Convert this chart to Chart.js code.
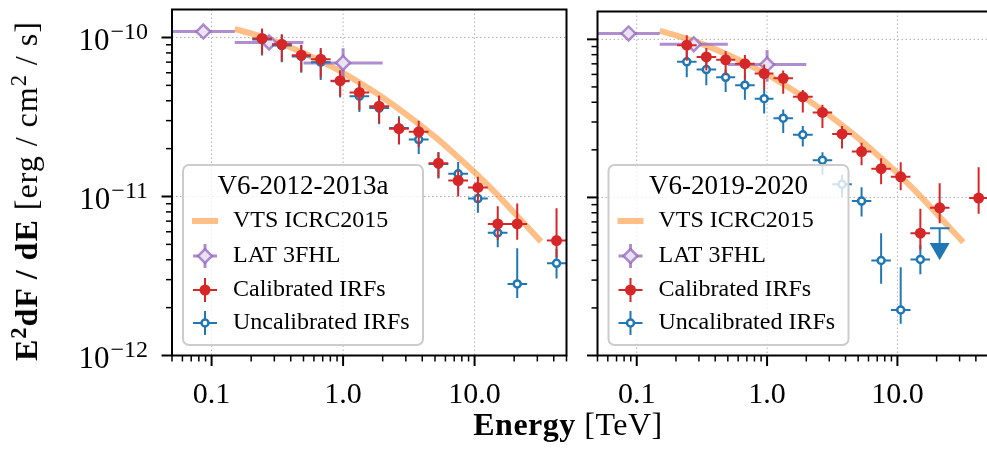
<!DOCTYPE html>
<html>
<head>
<meta charset="utf-8">
<script src="https://cdn.jsdelivr.net/npm/chart.js@4.4.1/dist/chart.umd.min.js"></script>
<style>
  html, body { margin: 0; padding: 0; background: #fff; }
  #figure { position: relative; width: 987px; height: 464px; overflow: hidden; font-family: "Liberation Serif", "DejaVu Serif", serif; }
  #figure canvas { position: absolute; top: 0; }
  #leftPanel { left: 0; }
  #rightPanel { left: 560px; }
  .axis-title { position: absolute; color: #000; font-size: 32px; line-height: 1; white-space: nowrap; letter-spacing: 0.5px; }
  .axis-title sup { font-size: 0.7em; vertical-align: 0.5em; line-height: 0; }
  #xTitle { left: 568px; top: 408px; transform: translateX(-50%); }
  #yTitle { left: 26px; top: 191px; transform: translate(-50%, -50%) rotate(-90deg); letter-spacing: 1px; }
</style>
</head>
<body>
<div id="figure">
  <canvas id="leftPanel" width="600" height="464"></canvas>
  <canvas id="rightPanel" width="440" height="464"></canvas>
  <div id="xTitle" class="axis-title"><b>Energy</b> [TeV]</div>
  <div id="yTitle" class="axis-title"><b>E<sup>2</sup>dF / dE</b> [erg / cm<sup>2</sup> / s]</div>
</div>
<script>
/* Crab SED, two VERITAS epochs */

// energy bins shared by both epochs [TeV]
const energy   = [0.242, 0.342, 0.481, 0.676, 0.95, 1.33, 1.88, 2.66, 3.76, 5.31, 7.5, 10.6, 15.0, 21.1, 42.0];
const energyLo = [0.204, 0.288, 0.407, 0.569, 0.804, 1.12, 1.58, 2.24, 3.16, 4.47, 6.31, 8.91, 12.6, 17.8, 35.5];
const energyHi = [0.288, 0.407, 0.569, 0.804, 1.12, 1.58, 2.24, 3.16, 4.47, 6.31, 8.91, 12.6, 17.8, 25.1, 50.0];

// V6-2012-2013a [erg/cm2/s]
const cal12   = [9.86e-11, 9.06e-11, 7.74e-11, 7.31e-11, 5.35e-11, 4.51e-11, 3.70e-11, 2.67e-11, 2.55e-11, 1.62e-11, 1.26e-11, 1.14e-11, 6.72e-12, 6.72e-12, 5.28e-12];
const cal12Lo = [7.85e-11, 7.1e-11, 6.08e-11, 5.58e-11, 4.27e-11, 3.5e-11, 2.9e-11, 2.12e-11, 2.05e-11, 1.31e-11, 1.0e-11, 9.1e-12, 5.35e-12, 5.35e-12, 4.14e-12];
const cal12Hi = [1.14e-10, 1.05e-10, 9.0e-11, 8.6e-11, 6.2e-11, 5.3e-11, 4.3e-11, 3.1e-11, 3.0e-11, 1.9e-11, 1.45e-11, 1.33e-11, 8.67e-12, 9.05e-12, 8.43e-12];
const uncal12   = [9.7e-11, 8.9e-11, 7.6e-11, 7.0e-11, 5.3e-11, 4.27e-11, 3.6e-11, 2.7e-11, 2.28e-11, 1.6e-11, 1.39e-11, 9.7e-12, 5.91e-12, 2.82e-12, 3.80e-12];
const uncal12Lo = [7.7e-11, 7.0e-11, 6.0e-11, 5.4e-11, 4.2e-11, 3.4e-11, 2.85e-11, 2.15e-11, 1.85e-11, 1.3e-11, 1.1e-11, 7.9e-12, 4.8e-12, 2.3e-12, 3.05e-12];
const uncal12Hi = [1.12e-10, 1.04e-10, 8.9e-11, 8.3e-11, 6.2e-11, 5.1e-11, 4.3e-11, 3.2e-11, 2.75e-11, 1.9e-11, 1.65e-11, 1.17e-11, 7.1e-12, 4.73e-12, 4.67e-12];

// V6-2019-2020
const cal19   = [9.18e-11, 7.74e-11, 7.42e-11, 7.01e-11, 6.08e-11, 5.67e-11, 4.33e-11, 3.45e-11, 2.52e-11, 1.95e-11, 1.52e-11, 1.35e-11, 5.94e-12, 8.59e-12, 9.91e-12];
const cal19Lo = [7.31e-11, 6.35e-11, 5.92e-11, 5.58e-11, 4.85e-11, 4.52e-11, 3.45e-11, 2.75e-11, 2.04e-11, 1.60e-11, 1.21e-11, 1.11e-11, 4.69e-12, 6.86e-12, 7.88e-12];
const cal19Hi = [1.06e-10, 8.8e-11, 8.4e-11, 7.97e-11, 6.92e-11, 6.35e-11, 4.78e-11, 3.86e-11, 2.83e-11, 2.22e-11, 1.77e-11, 1.67e-11, 8.48e-12, 1.23e-11, 1.55e-11];
const uncal19   = [7.21e-11, 6.44e-11, 5.75e-11, 5.13e-11, 4.21e-11, 3.17e-11, 2.49e-11, 1.72e-11, 1.21e-11, 9.48e-12, 3.99e-12, 1.94e-12, 4.05e-12];
const uncal19Lo = [5.75e-11, 5.13e-11, 4.65e-11, 4.15e-11, 3.40e-11, 2.56e-11, 2.1e-11, 1.39e-11, 1.0e-11, 7.57e-12, 2.84e-12, 1.59e-12, 3.27e-12];
const uncal19Hi = [8.44e-11, 7.31e-11, 6.44e-11, 5.92e-11, 4.85e-11, 3.6e-11, 2.83e-11, 1.93e-11, 1.39e-11, 1.16e-11, 5.94e-12, 3.61e-12, 5.0e-12];
// upper limit in bin 14 of the uncalibrated 2019-2020 spectrum
const uncal19UlTop  = [6.38e-12];
const uncal19UlMark = [4.73e-12];

// Fermi-LAT 3FHL
const latE   = [0.0866, 0.274, 1.0];
const latELo = [0.05, 0.15, 0.5];
const latEHi = [0.15, 0.5, 2.0];
const latF   = [1.09e-10, 9.31e-11, 6.92e-11];
const latFLo = [1.02e-10, 8.7e-11, 5.4e-11];
const latFHi = [1.16e-10, 9.9e-11, 8.55e-11];

// VTS ICRC2015 curve, read at these energies
const vtsE = [0.15, 0.2, 0.3, 0.5, 0.7, 1.0, 1.5, 2.0, 3.0, 5.0, 7.0, 10.0, 15.0, 20.0, 32.0];
const vtsF = [1.13e-10, 1.06e-10, 9.5e-11, 8.0e-11, 7.0e-11, 6.0e-11, 4.9e-11, 4.2e-11, 3.3e-11, 2.37e-11, 1.86e-11, 1.42e-11, 1.02e-11, 7.9e-12, 5.2e-12];

// axes
const xTicks = [0.1, 1, 10];
const xTickLabels = ['0.1', '1.0', '10.0'];
const yTicks = [1e-12, 1e-11, 1e-10];
const yTickExps = ['\u221212', '\u221211', '\u221210'];
const legendTitles = ['V6-2012-2013a', 'V6-2019-2020'];
const legendLabels = ['VTS ICRC2015', 'LAT 3FHL', 'Calibrated IRFs', 'Uncalibrated IRFs'];

const RED = '#d62728';
const BLUE = '#1f77b4';
const PURPLE = 'rgba(148,103,189,0.75)';
const PURPLE_FILL = 'rgba(148,103,189,0.2)';
const ORANGE = 'rgba(255,127,14,0.5)';
const SERIF = '"Liberation Serif", "DejaVu Serif", serif';

function xy(xs, ys) {
  return ys.map((v, i) => ({x: xs[i], y: v}));
}

// error bars as broken line segments (null breaks the line)
function errorBars(xs, xLo, xHi, ys, yLo, yHi) {
  const out = [];
  ys.forEach((v, i) => {
    out.push({x: xLo[i], y: v}, {x: xHi[i], y: v}, {x: xs[i], y: null});
    out.push({x: xs[i], y: yLo[i]}, {x: xs[i], y: yHi[i]}, {x: xs[i], y: null});
  });
  return out;
}

function errSet(data, color, width, order) {
  return {data: data, borderColor: color, borderWidth: width, pointRadius: 0, spanGaps: false, fill: false, order: order};
}

function drawHandle(ctx, k, cx, cy) {
  ctx.save();
  if (k === 0) {
    ctx.strokeStyle = ORANGE;
    ctx.lineWidth = 6;
    ctx.beginPath(); ctx.moveTo(cx - 13, cy); ctx.lineTo(cx + 13, cy); ctx.stroke();
    ctx.restore();
    return;
  }
  const col = k === 1 ? PURPLE : (k === 2 ? RED : BLUE);
  ctx.strokeStyle = col;
  ctx.lineWidth = k === 1 ? 3 : 2;
  ctx.beginPath();
  ctx.moveTo(cx - 12, cy); ctx.lineTo(cx + 12, cy);
  ctx.moveTo(cx, cy - 12); ctx.lineTo(cx, cy + 12);
  ctx.stroke();
  ctx.beginPath();
  if (k === 1) {
    ctx.moveTo(cx - 7, cy); ctx.lineTo(cx, cy - 7); ctx.lineTo(cx + 7, cy); ctx.lineTo(cx, cy + 7); ctx.closePath();
    ctx.fillStyle = '#fff'; ctx.fill();
    ctx.fillStyle = PURPLE_FILL; ctx.fill();
    ctx.lineWidth = 2.5; ctx.stroke();
  } else if (k === 2) {
    ctx.arc(cx, cy, 5.5, 0, Math.PI * 2);
    ctx.fillStyle = RED; ctx.fill();
  } else {
    ctx.arc(cx, cy, 3.5, 0, Math.PI * 2);
    ctx.fillStyle = '#fff'; ctx.fill();
    ctx.lineWidth = 2.5; ctx.stroke();
  }
  ctx.restore();
}

function drawLegend(ctx, a, title) {
  const bx = a.left + 11, by = a.bottom - 190.5, bw = 240, bh = 180, r = 6;
  ctx.save();
  ctx.beginPath();
  ctx.moveTo(bx + r, by);
  ctx.arcTo(bx + bw, by, bx + bw, by + bh, r);
  ctx.arcTo(bx + bw, by + bh, bx, by + bh, r);
  ctx.arcTo(bx, by + bh, bx, by, r);
  ctx.arcTo(bx, by, bx + bw, by, r);
  ctx.closePath();
  ctx.fillStyle = 'rgba(255,255,255,0.8)';
  ctx.fill();
  ctx.strokeStyle = '#cccccc';
  ctx.lineWidth = 2;
  ctx.stroke();

  ctx.fillStyle = '#000';
  ctx.textAlign = 'center';
  ctx.textBaseline = 'alphabetic';
  ctx.font = '27px ' + SERIF;
  ctx.fillText(title, bx + bw / 2, by + 29);

  const rows = [56, 91, 125, 158];
  ctx.font = '24px ' + SERIF;
  ctx.textAlign = 'left';
  ctx.textBaseline = 'middle';
  legendLabels.forEach((label, k) => {
    drawHandle(ctx, k, bx + 22, by + rows[k]);
    ctx.fillText(label, bx + 50, by + rows[k]);
  });
  ctx.restore();
}

const panelDecor = {
  id: 'panelDecor',
  beforeDatasetsDraw(chart) {
    const {ctx, chartArea: a, scales: {x, y}} = chart;
    ctx.save();
    ctx.strokeStyle = '#b0b0b0';
    ctx.lineWidth = 1;
    ctx.setLineDash([1.5, 2.5]);
    ctx.beginPath();
    xTicks.forEach(v => {
      const px = x.getPixelForValue(v);
      ctx.moveTo(px, a.top); ctx.lineTo(px, a.bottom);
    });
    yTicks.forEach(v => {
      const py = y.getPixelForValue(v);
      if (py > a.top + 2 && py < a.bottom - 2) { ctx.moveTo(a.left, py); ctx.lineTo(a.right, py); }
    });
    ctx.stroke();
    ctx.restore();
  },
  afterDraw(chart, args, opts) {
    const {ctx, chartArea: a, scales: {x, y}} = chart;
    ctx.save();
    ctx.strokeStyle = '#000';
    const tick = (x1, y1, x2, y2, w) => {
      ctx.lineWidth = w;
      ctx.beginPath(); ctx.moveTo(x1, y1); ctx.lineTo(x2, y2); ctx.stroke();
    };
    // x ticks
    for (let e = -2; e <= 1; e++) {
      for (let m = 1; m <= 9; m++) {
        const v = m * Math.pow(10, e);
        if (v < x.min * 0.999 || v > x.max * 1.001) continue;
        const px = x.getPixelForValue(v);
        const major = m === 1;
        tick(px, a.bottom, px, a.bottom + (major ? 10.5 : 6), major ? 2 : 1.5);
      }
    }
    // y ticks
    for (let e = -12; e <= -10; e++) {
      for (let m = 1; m <= 9; m++) {
        const v = m * Math.pow(10, e);
        if (v < y.min * 0.999 || v > y.max * 1.001) continue;
        const py = y.getPixelForValue(v);
        const major = m === 1;
        tick(a.left, py, a.left - (major ? 10.5 : 6), py, major ? 2 : 1.5);
      }
    }
    ctx.lineWidth = 2;
    ctx.strokeRect(a.left, a.top, a.right - a.left, a.bottom - a.top);

    ctx.fillStyle = '#000';
    ctx.textBaseline = 'alphabetic';
    ctx.font = '30px ' + SERIF;
    ctx.textAlign = 'center';
    xTicks.forEach((v, i) => ctx.fillText(xTickLabels[i], x.getPixelForValue(v), a.bottom + 47.5));

    if (opts.yLabels) {
      const right = a.left - 24;
      yTicks.forEach((v, i) => {
        const py = y.getPixelForValue(v);
        ctx.font = '24px ' + SERIF;
        const supW = ctx.measureText(yTickExps[i]).width;
        ctx.textAlign = 'left';
        ctx.fillText(yTickExps[i], right - supW, py + 1.7);
        ctx.font = '31px ' + SERIF;
        ctx.textAlign = 'right';
        ctx.fillText('10', right - supW - 1, py + 12.7);
      });
    }
    drawLegend(ctx, a, opts.legendTitle);
    ctx.restore();
  }
};

class SpectrumFigure {

  constructor() {
    this.setupCharts();
  }

  commonSets() {
    return [
      {
        data: xy(vtsE, vtsF),
        borderColor: ORANGE,
        borderWidth: 6,
        borderCapStyle: 'butt',
        cubicInterpolationMode: 'monotone',
        pointRadius: 0,
        fill: false,
        order: 10
      },
      errSet(errorBars(latE, latELo, latEHi, latF, latFLo, latFHi), PURPLE, 3, 9),
      {
        data: xy(latE, latF),
        showLine: false,
        pointStyle: 'rectRot',
        pointRadius: 7,
        pointBorderWidth: 2.5,
        pointBorderColor: PURPLE,
        pointBackgroundColor: '#ebe3f3',
        order: 8
      }
    ];
  }

  seriesSets(cal, calLo, calHi, unc, uncLo, uncHi) {
    return [
      errSet(errorBars(energy, energyLo, energyHi, unc, uncLo, uncHi), BLUE, 2, 7),
      {
        data: xy(energy, unc),
        showLine: false,
        pointStyle: 'circle',
        pointRadius: 3.5,
        pointBorderWidth: 2.5,
        pointBorderColor: BLUE,
        pointBackgroundColor: '#fff',
        order: 6
      },
      errSet(errorBars(energy, energyLo, energyHi, cal, calLo, calHi), RED, 2, 5),
      {
        data: xy(energy, cal),
        showLine: false,
        pointStyle: 'circle',
        pointRadius: 5.5,
        pointBorderWidth: 0,
        pointBackgroundColor: RED,
        order: 4
      }
    ];
  }

  makeChart(id, padding, datasets, decor) {
    return new Chart(document.getElementById(id), {
      type: 'line',
      data: {datasets: datasets},
      options: {
        responsive: false,
        animation: false,
        events: [],
        layout: {padding: padding},
        scales: {
          x: {type: 'logarithmic', min: 0.05, max: 50, display: false},
          y: {type: 'logarithmic', min: 1e-12, max: 1.5e-10, display: false}
        },
        plugins: {
          legend: {display: false},
          tooltip: {enabled: false},
          panelDecor: decor
        }
      },
      plugins: [panelDecor]
    });
  }

  setupCharts() {
    // left panel: 2012-2013a
    const left = this.commonSets().concat(
      this.seriesSets(cal12, cal12Lo, cal12Hi, uncal12, uncal12Lo, uncal12Hi));
    this.leftChart = this.makeChart('leftPanel',
      {left: 172, right: 33.5, top: 2.4, bottom: 108.5}, left,
      {yLabels: true, legendTitle: legendTitles[0]});

    // right panel: 2019-2020, with the upper limit
    const ulE = energy[13];
    const right = this.commonSets().concat(
      this.seriesSets(cal19, cal19Lo, cal19Hi, uncal19, uncal19Lo, uncal19Hi));
    right.push(errSet([
      {x: energyLo[13], y: uncal19UlTop[0]}, {x: energyHi[13], y: uncal19UlTop[0]}, {x: ulE, y: null},
      {x: ulE, y: uncal19UlTop[0]}, {x: ulE, y: uncal19UlMark[0]}
    ], BLUE, 2, 7));
    right.push({
      data: [{x: ulE, y: uncal19UlMark[0]}],
      showLine: false,
      pointStyle: 'triangle',
      rotation: 180,
      pointRadius: 11.5,
      pointBorderWidth: 0,
      pointBackgroundColor: BLUE,
      order: 6
    });
    this.rightChart = this.makeChart('rightPanel',
      {left: 37.5, right: 8, top: 2.4, bottom: 108.5}, right,
      {yLabels: false, legendTitle: legendTitles[1]});
  }
}

new SpectrumFigure();
</script>
</body>
</html>
